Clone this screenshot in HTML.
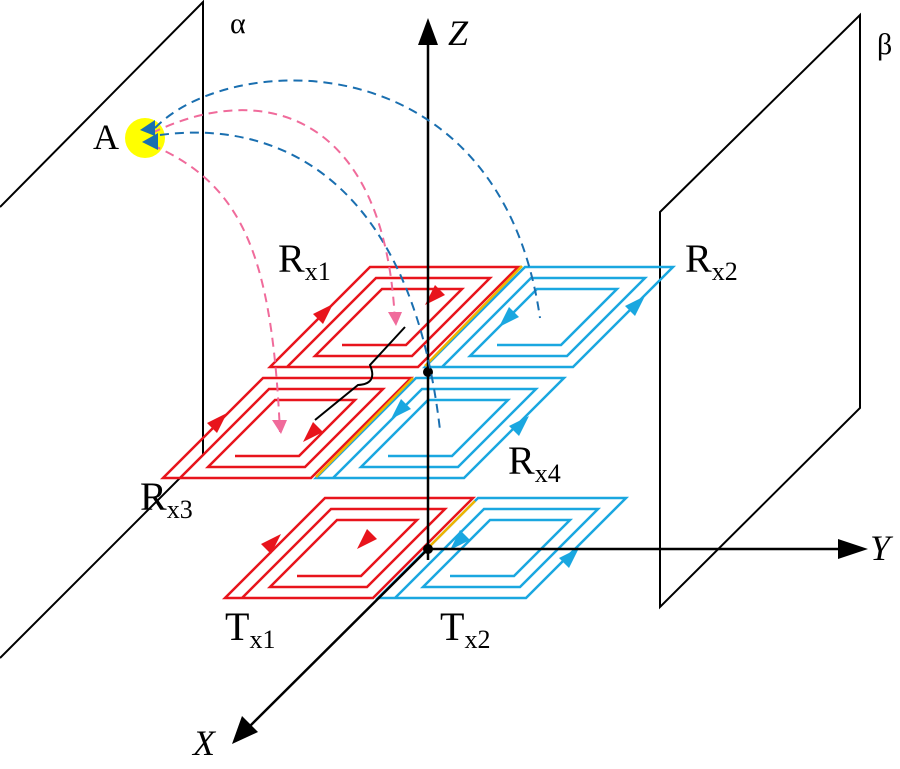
<!DOCTYPE html>
<html><head><meta charset="utf-8"><style>
html,body{margin:0;padding:0;background:#fff;width:900px;height:769px;overflow:hidden}
text{font-family:"Liberation Serif","DejaVu Serif",serif;fill:#000}
</style></head><body>
<svg width="900" height="769" viewBox="0 0 900 769" xmlns="http://www.w3.org/2000/svg">
<defs>
<g id="coil" fill="none">
<path vector-effect="non-scaling-stroke" stroke-width="2.5" d="M17 0 L0 0 L0 -100 L148 -100 L148 0 L17 0 L17 -11 L17 -89 L131 -89 L131 -11 L34 -11 L34 -22 L34 -78 L114 -78 L114 -22 L50 -22"/>
</g>
<polygon id="au" points="9,-9 -1,11 -11,1"/>
<polygon id="ad" points="-9,9 1,-11 11,-1"/>
</defs>
<!-- planes -->
<g stroke="#000" stroke-width="2" fill="none">
<polyline points="0,207 203,2 203,455 0,658"/>
<polygon points="660,212 860,15 860,408 660,607"/>
</g>
<text x="230" y="33" font-size="30">α</text>
<text x="877" y="54" font-size="30">β</text>

<!-- coils -->
<g transform="translate(270,367) skewX(-45)" stroke="#e8141c"><use href="#coil"/></g>
<g transform="translate(163,478) skewX(-45)" stroke="#e8141c"><use href="#coil"/></g>
<g transform="translate(225,598) skewX(-45)" stroke="#e8141c"><use href="#coil"/></g>
<g transform="translate(425,367) skewX(-45)" stroke="#1aa7e0"><use href="#coil"/></g>
<g transform="translate(316,478) skewX(-45)" stroke="#1aa7e0"><use href="#coil"/></g>
<g transform="translate(378,598) skewX(-45)" stroke="#1aa7e0"><use href="#coil"/></g>
<g stroke="#f0b400" stroke-width="2.5">
<line x1="522" y1="266" x2="425" y2="366"/>
<line x1="413" y1="378" x2="316" y2="477"/>
<line x1="475" y1="501" x2="428" y2="548"/>
</g>
<!-- coil arrows -->
<g fill="#e8141c">
<use href="#au" x="324" y="313"/>
<use href="#au" x="218" y="422"/>
<use href="#au" x="272" y="543"/>
<use href="#ad" x="434" y="296"/>
<use href="#ad" x="312" y="433"/>
<use href="#ad" x="366" y="540"/>
</g>
<g fill="#1aa7e0">
<use href="#au" x="636" y="305"/>
<use href="#au" x="520" y="425"/>
<use href="#au" x="570" y="557"/>
<use href="#ad" x="508" y="318"/>
<use href="#ad" x="400" y="410"/>
<use href="#ad" x="459" y="541"/>
</g>
<!-- wire -->
<path d="M405,327 L370,365 Q378,384 358,385 L315,420" fill="none" stroke="#000" stroke-width="2"/>

<!-- axes -->
<g stroke="#000" stroke-width="2.5">
<line x1="428" y1="560" x2="428" y2="40"/>
<line x1="428" y1="549" x2="845" y2="549"/>
<line x1="428" y1="549" x2="248" y2="728"/>
</g>
<polygon points="428,18 418,45 438,45" fill="#000"/>
<polygon points="868,549 838,539 838,559" fill="#000"/>
<polygon points="232,744 242,716 258,732" fill="#000"/>
<circle cx="428" cy="549" r="5" fill="#000"/>
<circle cx="428" cy="372" r="5" fill="#000"/>
<text x="448" y="45" font-size="36" font-style="italic">Z</text>
<text x="870" y="560" font-size="36" font-style="italic">Y</text>
<text x="193" y="755" font-size="36" font-style="italic">X</text>

<!-- A -->
<circle cx="145" cy="138" r="20" fill="#ffff00"/>
<text x="93" y="149" font-size="36">A</text>

<!-- dashed curves -->
<g fill="none" stroke-width="2" stroke-dasharray="9,6">
<path d="M155,128 C230,50 500,40 540,318" stroke="#1a6fb0"/>
<path d="M160,135 C270,120 410,170 440,430" stroke="#1a6fb0"/>
<path d="M152,133 C260,80 385,110 395,322" stroke="#f06b9b"/>
<path d="M152,145 C245,185 272,260 280,432" stroke="#f06b9b"/>
</g>
<g fill="#1a6fb0">
<polygon points="140,130 155,120 155,136"/>
<polygon points="142,142 158,133 158,150"/>
</g>
<g fill="#f06b9b">
<polygon points="388,312 402,312 396,326"/>
<polygon points="272,420 287,420 281,434"/>
</g>

<!-- labels -->
<text x="278" y="272" font-size="40">R<tspan font-size="26" dy="8">x1</tspan></text>
<text x="685" y="272" font-size="40">R<tspan font-size="26" dy="8">x2</tspan></text>
<text x="140" y="510" font-size="40">R<tspan font-size="26" dy="8">x3</tspan></text>
<text x="508" y="474" font-size="40">R<tspan font-size="26" dy="8">x4</tspan></text>
<text x="225" y="640" font-size="40">T<tspan font-size="26" dy="8">x1</tspan></text>
<text x="440" y="640" font-size="40">T<tspan font-size="26" dy="8">x2</tspan></text>
</svg>
</body></html>
